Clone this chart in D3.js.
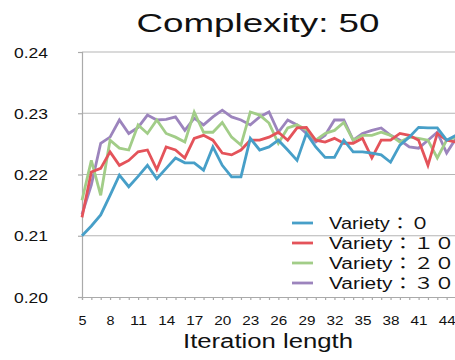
<!DOCTYPE html>
<html><head><meta charset="utf-8">
<script src="https://cdn.jsdelivr.net/npm/d3@7"></script>
<style>html,body{margin:0;padding:0;background:#fff;}svg{display:block;}</style>
</head><body>
<script>
const iterations = d3.range(5, 46);
const xTickLabels = [5, 8, 11, 14, 17, 20, 23, 26, 29, 32, 35, 38, 41, 44];
const yTicks = [0.20, 0.21, 0.22, 0.23, 0.24];
const seriesNames = ["Variety：０", "Variety：１０", "Variety：２０", "Variety：３０"];
const variety0 = [0.2100,0.2116,0.2134,0.2166,0.2199,0.2180,0.2197,0.2215,0.2193,0.2210,0.2227,0.2219,0.2219,0.2207,0.2245,0.2215,0.2196,0.2196,0.2259,0.2240,0.2245,0.2256,0.2240,0.2223,0.2267,0.2245,0.2228,0.2228,0.2256,0.2237,0.2237,0.2235,0.2232,0.2220,0.2248,0.2261,0.2277,0.2276,0.2276,0.2256,0.2264];
const variety10 = [0.2130,0.2204,0.2210,0.2237,0.2215,0.2223,0.2237,0.2240,0.2208,0.2245,0.2240,0.2227,0.2259,0.2264,0.2256,0.2235,0.2232,0.2240,0.2256,0.2256,0.2261,0.2269,0.2256,0.2276,0.2277,0.2256,0.2253,0.2259,0.2251,0.2251,0.2259,0.2227,0.2256,0.2256,0.2267,0.2264,0.2256,0.2215,0.2267,0.2256,0.2253];
const variety20 = [0.2158,0.2223,0.2166,0.2256,0.2243,0.2240,0.2281,0.2267,0.2289,0.2267,0.2261,0.2253,0.2302,0.2269,0.2269,0.2285,0.2261,0.2248,0.2302,0.2297,0.2284,0.2251,0.2276,0.2281,0.2273,0.2256,0.2267,0.2272,0.2285,0.2256,0.2264,0.2264,0.2269,0.2264,0.2253,0.2261,0.2259,0.2256,0.2227,0.2256,0.2261];
const variety30 = [0.2135,0.2183,0.2251,0.2261,0.2289,0.2267,0.2277,0.2297,0.2289,0.2290,0.2294,0.2272,0.2292,0.2281,0.2294,0.2305,0.2294,0.2289,0.2281,0.2294,0.2302,0.2269,0.2289,0.2281,0.2267,0.2253,0.2264,0.2289,0.2289,0.2256,0.2267,0.2272,0.2276,0.2264,0.2256,0.2245,0.2243,0.2256,0.2269,0.2235,0.2259];
const colors = ["#479fc8", "#e4535a", "#a2cd88", "#9c84bd"];

const W = 455, H = 360;
const svg = d3.select("body").append("svg").attr("width", W).attr("height", H)
  .style("font-family", "'Liberation Sans', Arial, sans-serif");

const x = d3.scalePoint().domain(iterations).range([82, 456]);
const y = d3.scaleLinear().domain([0.20, 0.24]).range([297, 52]);

// gridlines
svg.append("g").selectAll("line").data(yTicks.slice(1)).join("line")
  .attr("x1", 82).attr("x2", W).attr("y1", d => y(d)).attr("y2", d => y(d))
  .attr("stroke", "#b5b5b5").attr("stroke-width", 1.2);

// y axis
const yAxis = svg.append("g").attr("transform", "translate(82,0)")
  .call(d3.axisLeft(y).tickValues(yTicks).tickSize(4).tickPadding(30).tickFormat(d3.format(".2f")));
yAxis.select(".domain").attr("stroke", "#aaaaaa").attr("stroke-width", 1.2);
yAxis.selectAll(".tick line").attr("stroke", "#aaaaaa").attr("stroke-width", 1.2);
yAxis.selectAll(".tick text").attr("fill", "#111").style("font-size", "14px")
  .attr("textLength", 34).attr("lengthAdjust", "spacingAndGlyphs").attr("dy", "0.36em");

// x axis
const xAxis = svg.append("g").attr("transform", "translate(0,297)")
  .call(d3.axisBottom(x).tickSize(3).tickPadding(16).tickFormat(d => xTickLabels.includes(d) ? d : ""));
xAxis.select(".domain").attr("stroke", "#aaaaaa").attr("stroke-width", 1.2);
xAxis.selectAll(".tick line").attr("stroke", "#aaaaaa").attr("stroke-width", 1.2);
xAxis.selectAll(".tick text").attr("fill", "#111").style("font-size", "12px")
  .each(function(d){ if (xTickLabels.includes(d)) d3.select(this).attr("textLength", String(d).length > 1 ? 17 : 8).attr("lengthAdjust", "spacingAndGlyphs"); });

// lines
const series = [variety0, variety10, variety20, variety30];
const line = d3.line().x((d, i) => x(iterations[i])).y(d => y(d));
const order = [3, 2, 1, 0];
svg.append("g").selectAll("path").data(order).join("path")
  .attr("d", i => line(series[i]))
  .attr("fill", "none").attr("stroke", i => colors[i]).attr("stroke-width", 2.8)
  .attr("stroke-linejoin", "miter");

// title
svg.append("text").attr("x", 258).attr("y", 32).attr("text-anchor", "middle")
  .style("font-size", "25px").attr("fill", "#111")
  .attr("textLength", 243).attr("lengthAdjust", "spacingAndGlyphs")
  .text("Complexity: 50");

// x axis title
svg.append("text").attr("x", 268).attr("y", 348).attr("text-anchor", "middle")
  .style("font-size", "20px").attr("fill", "#111")
  .attr("textLength", 170).attr("lengthAdjust", "spacingAndGlyphs")
  .text("Iteration length");

// legend
const legendY = [223, 243, 263, 283];
const legendLen = [101, 126, 126, 126];
const lg = svg.append("g");
seriesNames.forEach((name, i) => {
  lg.append("line").attr("x1", 292).attr("x2", 313).attr("y1", legendY[i]).attr("y2", legendY[i])
    .attr("stroke", colors[i]).attr("stroke-width", 2.8);
  lg.append("text").attr("x", 329).attr("y", legendY[i] + 6)
    .style("font-size", "16px").style("font-family", "'Liberation Sans', 'Noto Sans CJK JP', sans-serif")
    .attr("fill", "#111")
    .attr("textLength", legendLen[i]).attr("lengthAdjust", "spacingAndGlyphs")
    .text(name);
});
</script>
</body></html>
